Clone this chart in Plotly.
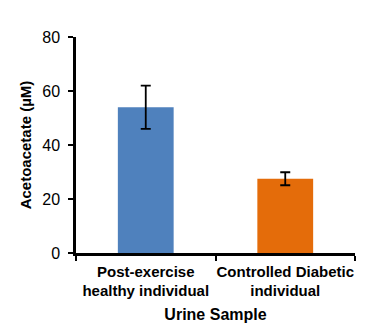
import plotly.graph_objects as go

categories = ["Post-exercise<br>healthy individual", "Controlled Diabetic<br>individual"]
values = [54.0, 27.5]
errors = [8.0, 2.4]
colors = ["#4f81bd", "#e46c0a"]
y_ticks = [0, 20, 40, 60, 80]

fig = go.Figure(go.Bar(
    x=categories, y=values,
    marker=dict(color=colors, line=dict(width=0)),
    error_y=dict(type="data", array=errors, visible=True, color="black", thickness=1.8, width=5),
    width=0.4,
))

font = "Liberation Sans, Arial, sans-serif"
fig.update_layout(
    width=374, height=333,
    margin=dict(l=76, r=19, t=37, b=80, autoexpand=False),
    paper_bgcolor="white", plot_bgcolor="white",
    showlegend=False,
    font=dict(family=font, color="black"),
    xaxis=dict(
        showline=True, linecolor="black", linewidth=2.5,
        ticks="outside", tickson="boundaries", ticklen=5, tickwidth=1.5, tickcolor="black",
        tickfont=dict(size=15, family=font, weight="bold"),
        tickangle=0, automargin=False,
        ticklabelstandoff=3,
        title=dict(text="<b>Urine Sample</b>", font=dict(size=16), standoff=11),
        showgrid=False,
    ),
    yaxis=dict(
        range=[0, 80], tickvals=y_ticks,
        showline=True, linecolor="black", linewidth=2.5,
        ticks="outside", ticklen=5, tickwidth=1.5, tickcolor="black",
        tickfont=dict(size=16, family=font),
        automargin=False,
        ticklabelstandoff=5,
        title=dict(text="<b>Acetoacetate (µM)</b>", font=dict(size=15), standoff=8),
        showgrid=False, zeroline=False,
    ),
)

fig.write_html("out.html")
